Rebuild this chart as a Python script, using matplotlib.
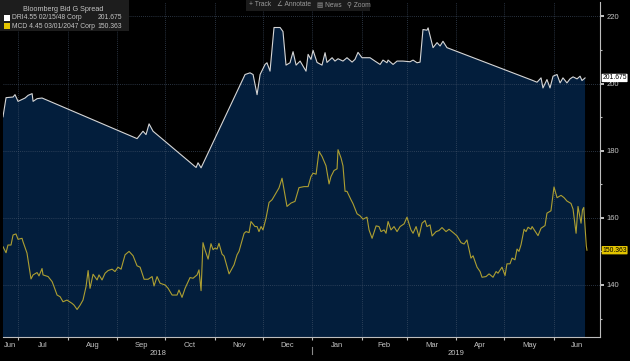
import datetime as dt

import numpy as np
import matplotlib
matplotlib.use("Agg")
import matplotlib.pyplot as plt
import matplotlib.transforms as mtransforms
from matplotlib.patches import Rectangle

# ==============================================================
# DATA  (days counted from 2018-07-01, spread in bp)
# ==============================================================

dri_days = [-9.4, -7.5, -3.1, -1.9, 0, 4.4, 6.3, 8.8, 9.4, 11.9, 15,
            74.4, 78.1, 80, 81.9, 84.4, 111.3, 112.5, 114.4,
            141.9, 145, 146.9, 149.4, 151.3, 154.4, 155.6, 157.5,
            160, 163.8, 165.6, 167.5, 170, 171.9, 173.8, 176.3,
            180, 181.3, 183.1, 184.4, 186.9, 190, 191.9, 193.1, 196.3,
            198.1, 200, 203.1, 205.6, 208.8, 210.6, 212.5, 215, 220,
            223.1, 226.3, 228.1, 230.6, 231.3, 234.4, 236.9, 240.6, 245,
            246.9, 249.4, 251.3, 253.1, 255.6, 256.3, 259.4, 261.9,
            263.8, 265.6, 268.1,
            321.3, 324.4, 326.9, 328.1, 330.6, 332.5, 334.4, 336.9,
            338.8, 340.6, 343.1, 345, 346.9, 349.4, 351.3, 352.5, 354.4]
dri_vals = [190.1, 195.8, 196.0, 196.7, 194.7, 195.7, 196.5, 197.0, 194.7, 195.5, 195.7,
            183.6, 185.8, 184.8, 188.0, 185.8, 175.0, 176.4, 174.9,
            202.7, 203.2, 202.7, 196.7, 202.7, 205.7, 206.2, 203.7,
            216.7, 216.7, 215.5, 205.5, 206.2, 209.5, 205.5, 206.7,
            203.7, 208.7, 207.2, 209.9, 206.3, 205.5, 209.2, 206.3, 207.7,
            206.7, 207.4, 206.7, 207.7, 206.4, 207.2, 209.3, 207.7, 207.7,
            206.7, 205.7, 207.0, 206.2, 207.0, 205.7, 206.7, 206.7, 206.5,
            207.0, 206.2, 206.4, 216.1, 215.9, 216.6, 210.7, 212.2,
            211.2, 212.6, 210.7,
            201.0, 200.4, 201.7, 198.7, 201.2, 198.7, 202.2, 202.7,
            200.2, 201.7, 200.2, 201.4, 202.0, 201.4, 202.2, 200.9, 201.675]

mcd_days = [-9.4, -7.5, -6.3, -4.4, -3.1, -1.3, 0, 2.5, 3.1, 5.6, 8.1, 9.4,
            11.9, 13.1, 15, 15.6, 18.8, 21.3, 22.5, 24.4, 26.3, 28.1, 30.6,
            33.8, 35, 36.9, 38.8, 40.6, 42.5, 43.8, 45, 46.9, 49.4, 50.6,
            52.5, 54.4, 56.3, 58.8, 60.6, 62.5, 64.4, 66.9, 69.4, 71.9,
            74.4, 76.3, 78.8, 81.3, 83.8, 85, 86.9, 88.8, 91.9, 93.8, 96.3,
            99.4, 100.6, 102.5, 104.4, 107.5, 109.4, 111.9, 113.1, 114.4,
            115.6, 116.9, 118.8, 120.6, 121.9, 123.1, 124.4, 125.6, 127.5,
            128.8, 131.9, 135, 136.9, 138.1, 141.3, 142.5, 144.4, 145.6,
            148.1, 149.4, 150.6, 151.9, 153.1, 155, 156.9, 158.8, 161.3,
            163.1, 165, 168.1, 170.6, 173.1, 175.6, 178.8, 181.3, 183.1,
            184.4, 186.3, 188.1, 190, 192.5, 194.4, 195.6, 197.5, 199.4,
            200, 201.9, 203.1, 204.4, 205.6, 208.1, 209.4, 211.9, 213.8,
            215.6, 218.1, 219.4, 221.3, 223.8, 225.6, 226.9, 228.8, 230,
            231.3, 233.1, 235, 236.9, 238.8, 241.3, 243.1, 245.6, 246.9,
            248.8, 250.6, 252.5, 254.4, 255.6, 257.5, 258.8, 261.3, 263.1,
            265, 267.5, 269.4, 272.5, 274.4, 276.9, 278.8, 280.6, 283.1,
            284.4, 286.9, 288.8, 290, 292.5, 294.4, 296.9, 298.8, 300,
            302.5, 304.4, 305.6, 307.5, 308.8, 310.6, 311.9, 313.1, 314.4,
            316.3, 317.5, 318.8, 320.6, 321.3, 323.8, 325, 326.9, 329.4,
            330.6, 333.1, 335, 336.9, 339.4, 341.3, 343.1, 345.6, 346.9,
            348.8, 350, 351.9, 352.8, 353.6, 354.4, 355.2, 355.6]
mcd_vals = [151.4, 149.6, 151.9, 151.9, 154.9, 155.2, 153.6, 153.9, 152.9, 149.5, 141.8, 143.0,
            143.7, 142.7, 144.9, 143.0, 142.5, 141.0, 139.5, 137.0, 136.5, 135.0, 135.5,
            134.5, 134.0, 132.7, 134.0, 135.5, 139.5, 144.3, 139.0, 143.2, 141.5, 143.0,
            141.5, 143.5, 144.3, 144.7, 144.0, 145.3, 144.7, 149.0, 150.0, 148.7,
            145.7, 145.3, 141.7, 141.7, 142.5, 139.7, 142.5, 140.5, 140.0, 139.0, 137.0,
            137.0, 138.5, 136.3, 139.0, 142.2, 142.0, 143.0, 144.5, 138.3,
            152.6, 150.4, 147.7, 152.3, 150.5, 151.0, 150.7, 152.4, 149.2,
            148.6, 143.3, 146.0, 149.0, 150.0, 155.4, 155.9, 155.6, 158.9,
            157.4, 157.4, 155.9, 157.4, 156.4, 159.9, 164.6, 165.4, 167.4,
            168.9, 171.8, 163.4, 164.4, 164.9, 169.0, 169.3, 169.3, 172.3,
            173.3, 173.0, 179.8, 178.3, 175.5, 170.1, 172.3, 174.1, 174.6,
            180.3, 177.8, 175.5, 167.9, 167.9, 165.4, 164.2, 161.2, 160.6,
            159.6, 160.2, 156.4, 153.9, 157.6, 157.4, 155.9, 156.4, 155.4,
            158.9, 156.4, 157.4, 155.9, 157.4, 158.2, 160.2, 156.4, 155.4,
            157.4, 154.4, 158.4, 159.2, 157.4, 157.9, 154.6, 155.9, 156.2,
            157.1, 155.9, 156.6, 155.4, 154.6, 152.6, 152.2, 153.4, 148.0,
            148.7, 145.3, 144.0, 142.3, 142.5, 143.3, 142.3, 144.0, 143.5,
            145.3, 142.8, 146.3, 146.3, 148.0, 147.5, 150.7, 150.0, 152.0,
            156.6, 155.9, 157.2, 156.6, 157.4, 155.6, 154.7, 156.9, 157.7,
            161.4, 162.1, 169.2, 166.0, 166.7, 166.0, 165.0, 164.3, 162.6,
            155.4, 163.4, 158.4, 162.4, 163.1, 157.4, 151.6, 150.363]

series_names = ["DRI4.55 02/15/48 Corp", "MCD 4.45 03/01/2047 Corp"]
last_values = [201.675, 150.363]
legend_title = "Bloomberg Bid G Spread"
toolbar_items = ["+ Track", "\u2220 Annotate", "\u25a4 News", "\u26b2 Zoom"]

y_major = [140, 160, 180, 200, 220]
y_minor = [130, 150, 170, 190, 210]

# ==============================================================
# STYLE
# ==============================================================

BG = "#000000"
NAVY = "#031e3c"
WHITE_LINE = "#d6d6d6"
YELLOW_LINE = "#ad9f32"
YELLOW_TAG = "#e3c400"
GRID = "#46566c"
TXT = "#c4c4c4"

# narrow-ish face, DejaVu only as fallback for the icon glyphs
plt.rcParams["font.family"] = ["Liberation Sans", "DejaVu Sans"]

base = dt.datetime(2018, 7, 1)
x_dri = [base + dt.timedelta(days=d) for d in dri_days]
x_mcd = [base + dt.timedelta(days=d) for d in mcd_days]
x_min = base + dt.timedelta(days=-9.4)
x_max = base + dt.timedelta(days=363.75)

fig = plt.figure(figsize=(6.30, 3.61), dpi=100, facecolor=BG)
ax = fig.add_axes([3 / 630, 1 - 337 / 361, 597 / 630, 335 / 361])
ax.set_facecolor(BG)

# ==============================================================
# SERIES
# ==============================================================

ax.fill_between(x_dri, dri_vals, 100, color=NAVY, lw=0, zorder=1)
ax.plot(x_dri, dri_vals, color=WHITE_LINE, lw=0.8, zorder=3)
ax.plot(x_mcd, mcd_vals, color=YELLOW_LINE, lw=0.8, zorder=3)

ax.set_xlim(x_min, x_max)
ax.set_ylim(124.5, 224.3)

# ==============================================================
# AXES / GRID
# ==============================================================

for s in ["left", "top"]:
    ax.spines[s].set_visible(False)
ax.spines["right"].set_color("#bdbdbd")
ax.spines["bottom"].set_color("#bdbdbd")
ax.spines["right"].set_linewidth(0.8)
ax.spines["bottom"].set_linewidth(0.8)

ax.yaxis.tick_right()
ax.set_yticks(y_major)
ax.set_yticks(y_minor, minor=True)
ax.tick_params(axis="y", which="major", colors=TXT, labelsize=5.5,
               length=3, width=1.4, pad=1.5)
ax.tick_params(axis="y", which="minor", colors="#bdbdbd", length=1.5, width=0.8)
for t in ax.get_yticklines():
    t.set_color("white")

# month boundaries: ticks + vertical grid
month_starts = []
m = dt.datetime(2018, 7, 1)
while m <= x_max:
    month_starts.append(m)
    m = dt.datetime(m.year + (m.month == 12), m.month % 12 + 1, 1)

ax.set_xticks(month_starts)
ax.set_xticklabels([])
ax.tick_params(axis="x", which="major", colors="#bdbdbd", length=2, width=0.8)

for ms in month_starts:
    ax.axvline(ms, color=GRID, lw=0.6, ls=(0, (1, 1.5)), alpha=0.8, zorder=2)
for yv in y_major:
    ax.axhline(yv, color=GRID, lw=0.6, ls=(0, (1, 1.5)), alpha=0.8, zorder=2)

# month labels centred in the visible part of each month
trans = mtransforms.blended_transform_factory(ax.transData, ax.transAxes)
edges = [dt.datetime(2018, 6, 1)] + month_starts + [dt.datetime(2019, 7, 1)]
for a, b in zip(edges[:-1], edges[1:]):
    lo = max(a, x_min)
    hi = min(b, x_max)
    if hi <= lo:
        continue
    mid = lo + (hi - lo) / 2
    ax.text(mid, -0.016, a.strftime("%b"), transform=trans, ha="center", va="top",
            fontsize=5.5, color=TXT)

# year labels
jan1 = dt.datetime(2019, 1, 1)
ax.text(x_min + (jan1 - x_min) / 2, -0.038, "2018", transform=trans,
        ha="center", va="top", fontsize=5.5, color=TXT)
ax.text(jan1 + (x_max - jan1) / 2, -0.038, "2019", transform=trans,
        ha="center", va="top", fontsize=5.5, color=TXT)
ax.plot([jan1, jan1], [-0.03, -0.05], transform=trans, color="#8a8a8a",
        lw=0.8, clip_on=False)

# last value tags on the right axis
tag_trans = mtransforms.blended_transform_factory(ax.transAxes, ax.transData)
ax.text(1.004, last_values[0], f"{last_values[0]:.3f}", transform=tag_trans,
        ha="left", va="center", fontsize=4.9, color="black", zorder=5,
        bbox=dict(boxstyle="round,pad=0.1", fc="white", ec="none"))
ax.text(1.004, last_values[1], f"{last_values[1]:.3f}", transform=tag_trans,
        ha="left", va="center", fontsize=4.9, color="black", zorder=5,
        bbox=dict(boxstyle="round,pad=0.1", fc=YELLOW_TAG, ec="none"))

# ==============================================================
# LEGEND BOX (top left)
# ==============================================================

fig.patches.append(Rectangle((0, 1 - 31 / 361), 129 / 630, 31 / 361,
                             transform=fig.transFigure, fc="#1d1d1d", ec="none",
                             zorder=10))
fig.text(63 / 630, 1 - 9.5 / 361, legend_title, ha="center", va="center",
         fontsize=5.2, color=TXT, zorder=11)
leg_colors = ["white", YELLOW_TAG]
for i, (name, val, c) in enumerate(zip(series_names, last_values, leg_colors)):
    yc = 1 - (17.5 + 8.5 * i) / 361
    fig.patches.append(Rectangle((4 / 630, yc - 3 / 361), 6 / 630, 6 / 361,
                                 transform=fig.transFigure, fc=c, ec="none",
                                 zorder=11))
    fig.text(12 / 630, yc, name, ha="left", va="center", fontsize=4.9,
             color=TXT, zorder=11)
    fig.text(122 / 630, yc, f"{val:.3f}", ha="right", va="center",
             fontsize=4.9, color=TXT, zorder=11)

# ==============================================================
# TOOLBAR (top centre)
# ==============================================================

fig.patches.append(Rectangle((246 / 630, 1 - 11 / 361), 124 / 630, 11 / 361,
                             transform=fig.transFigure, fc="#1b1b1b", ec="none",
                             zorder=10))
tool_x = [249, 277, 317, 347]
for tx, item in zip(tool_x, toolbar_items):
    fig.text(tx / 630, 1 - 5 / 361, item, ha="left", va="center", fontsize=4.8,
             color="#9a9a9a", zorder=11)

fig.savefig("out.png", dpi=100, facecolor=BG)
